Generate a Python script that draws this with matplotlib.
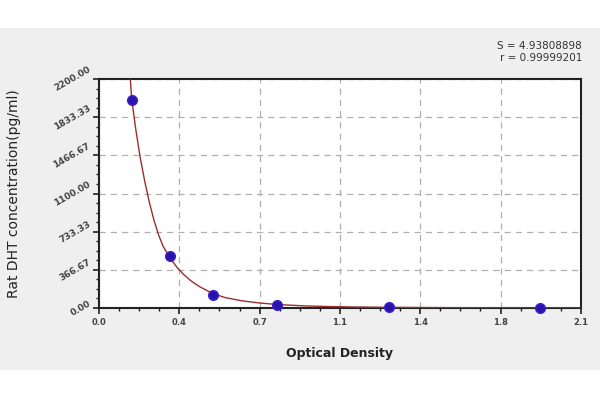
import matplotlib.pyplot as plt
from matplotlib.patches import Rectangle
from matplotlib.ticker import FixedLocator, AutoMinorLocator

# standard points (OD, concentration pg/ml)
od = [0.143, 0.31, 0.497, 0.778, 1.265, 1.923]
conc = [2000, 500, 125, 31.25, 7.8, 0]

# fitted curve, sampled along the drawn line
curve_od = [0.133, 0.143, 0.16, 0.18, 0.20, 0.22, 0.24, 0.26, 0.28, 0.31,
            0.34, 0.37, 0.40, 0.44, 0.497, 0.55, 0.62, 0.70, 0.78, 0.9,
            1.0, 1.1, 1.26, 1.5, 1.8, 2.1]
curve_conc = [2300, 2000, 1720, 1440, 1210, 1010, 840, 700, 590, 480,
              390, 320, 262, 203, 138, 100, 70, 48, 33, 20,
              14, 10, 6.5, 3.5, 2, 1]

x_ticks = [0.0, 0.35, 0.7, 1.05, 1.4, 1.75, 2.1]
x_labels = ["0.0", "0.4", "0.7", "1.1", "1.4", "1.8", "2.1"]
y_ticks = [0, 366.67, 733.33, 1100, 1466.67, 1833.33, 2200]
y_labels = ["0.00", "366.67", "733.33", "1100.00", "1466.67", "1833.33", "2200.00"]

fig = plt.figure(figsize=(6, 4), dpi=100, facecolor="white")
# grey panel behind the chart
fig.patches.append(Rectangle((0, 0.075), 1, 0.855, transform=fig.transFigure,
                             facecolor="#efefef", edgecolor="none", zorder=-1))

ax = fig.add_axes([0.165, 0.23, 0.803, 0.5725])
ax.set_facecolor("white")

ax.plot(curve_od, curve_conc, color="#9a2e2e", lw=1.0, zorder=3)
ax.plot(od, conc, "o", ms=7, color="#2c12a8", mec="#3a22d0", zorder=4, clip_on=False)

ax.set_xlim(0, 2.1)
ax.set_ylim(0, 2200)
ax.xaxis.set_major_locator(FixedLocator(x_ticks))
ax.yaxis.set_major_locator(FixedLocator(y_ticks))
ax.set_xticklabels(x_labels)
ax.set_yticklabels(y_labels, rotation=30, ha="right", va="center")
ax.xaxis.set_minor_locator(AutoMinorLocator(4))
ax.yaxis.set_minor_locator(AutoMinorLocator(4))
ax.tick_params(which="major", direction="out", length=4, width=1.2, labelsize=6,
               labelcolor="#444444", colors="#222222")
ax.tick_params(which="minor", direction="out", length=2.5, width=1.0, colors="#222222")
ax.tick_params(axis="x", labelcolor="#444444")
ax.tick_params(axis="y", labelcolor="#444444", labelsize=6.5, pad=1)
for lab in ax.get_xticklabels() + ax.get_yticklabels():
    lab.set_fontweight("bold")

for sp in ax.spines.values():
    sp.set_linewidth(1.5)
    sp.set_color("#222222")

ax.grid(True, which="major", ls=(0, (5, 4)), color="#b0b0b0", lw=0.9)

ax.set_xlabel("Optical Density", fontsize=9, fontweight="bold", color="#222222", labelpad=14)
ax.set_ylabel("Rat DHT concentration(pg/ml)", fontsize=10, color="#222222", labelpad=22)

fig.text(0.97, 0.885, "S = 4.93808898", ha="right", va="center", fontsize=7.5, color="#333333")
fig.text(0.97, 0.855, "r = 0.99999201", ha="right", va="center", fontsize=7.5, color="#333333")

fig.savefig("out.png", dpi=100, facecolor="white")
